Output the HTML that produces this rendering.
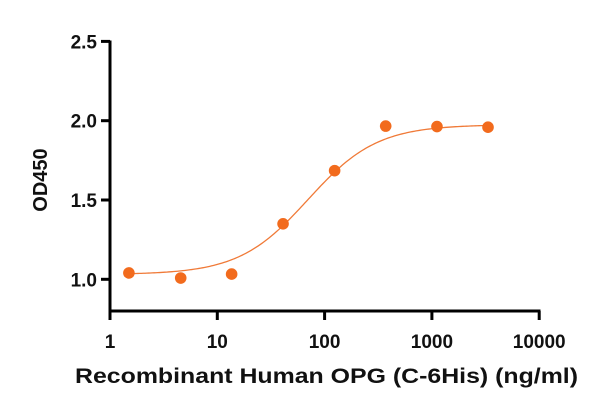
<!DOCTYPE html>
<html><head><meta charset="utf-8"><style>
body{margin:0;background:#fff;}
svg text{font-family:"Liberation Sans",sans-serif;font-weight:bold;fill:#111;}
</style></head><body>
<svg width="614" height="409">
<g id="axes"></g><g id="plot"></g>
<text x="75" y="383" font-size="21" textLength="503" lengthAdjust="spacingAndGlyphs">Recombinant Human OPG (C-6His) (ng/ml)</text>
<text transform="translate(47,180) rotate(-90)" font-size="20" text-anchor="middle">OD450</text>
</svg>
<script>
const xConc=[1.5,4.56,13.6,41,124,371,1115,3334];
const yOD=[1.04,1.008,1.033,1.35,1.685,1.966,1.963,1.959];
const xTicks=[1,10,100,1000,10000];
const yTicks=[1.0,1.5,2.0,2.5];
const fitBottom=1.03, fitTop=1.975, fitEC50=70, fitHill=1.35;
const NS="http://www.w3.org/2000/svg";
const X=v=>110+107.3*Math.log10(v);
const Y=v=>279.3-(v-1)*158.6;
const axes=document.getElementById('axes'),plot=document.getElementById('plot');
function mk(tag,at,parent){const e=document.createElementNS(NS,tag);for(const k in at)e.setAttribute(k,at[k]);parent.appendChild(e);return e;}
let l=mk('line',{x1:110,y1:311,x2:540.5,y2:311,stroke:'#000','stroke-width':3},axes);


l=mk('line',{x1:110,y1:40.5,x2:110,y2:312.5,stroke:'#000','stroke-width':3},axes);


xTicks.forEach(t=>{const x=X(t);
 mk('line',{x1:x,y1:311,x2:x,y2:320,stroke:'#000','stroke-width':3},axes);
 const tx=mk('text',{x:x,y:348,'font-size':19,'text-anchor':'middle'},axes);tx.textContent=t;
 
 });
yTicks.forEach(t=>{const y=Y(t);
 mk('line',{x1:101,y1:y,x2:110,y2:y,stroke:'#000','stroke-width':3},axes);
 const tx=mk('text',{x:97,y:y+7,'font-size':19,'text-anchor':'end'},axes);tx.textContent=t.toFixed(1);
 
 });
let d='';const lo=Math.log10(xConc[0]),hi=Math.log10(xConc[xConc.length-1]);
for(let i=0;i<=200;i++){const lx=lo+(hi-lo)*i/200,c=Math.pow(10,lx);
 const v=fitBottom+(fitTop-fitBottom)/(1+Math.pow(fitEC50/c,fitHill));
 d+=(i?'L':'M')+X(c).toFixed(2)+','+Y(v).toFixed(2);}
const p=mk('path',{d:d,fill:'none',stroke:'#f07a38','stroke-width':1.3},plot);


xConc.forEach((c,i)=>{const e=mk('circle',{cx:X(c),cy:Y(yOD[i]),r:5.8,fill:'#f26b1d'},plot);
 
 });
</script>
</body></html>
